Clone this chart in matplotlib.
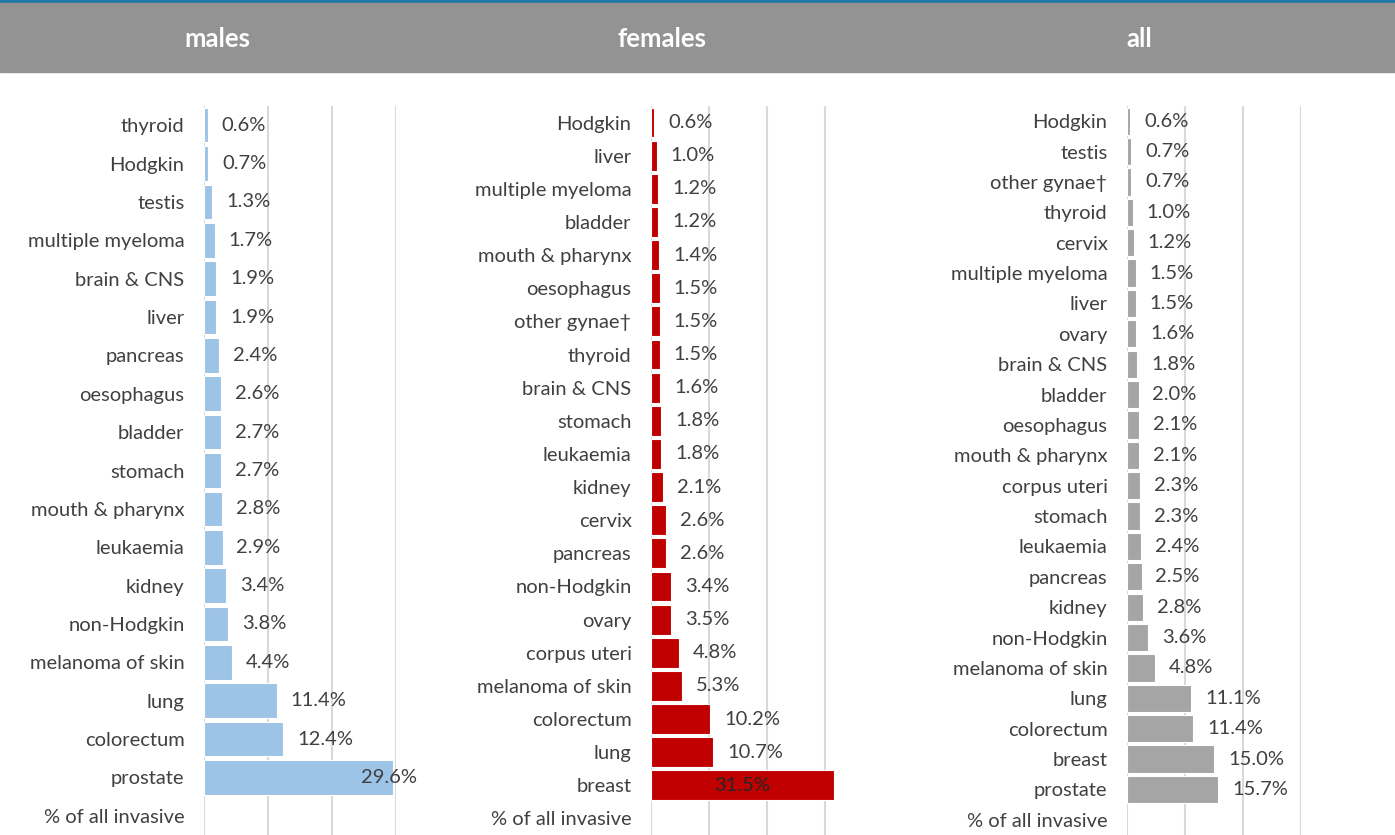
import numpy as np
import matplotlib.pyplot as plt
from matplotlib.patches import Rectangle

plt.rcParams['font.family'] = ['Lato', 'DejaVu Sans']

# share of all invasive cancers (%), listed top to bottom
male_sites = ['thyroid', 'Hodgkin', 'testis', 'multiple myeloma', 'brain & CNS', 'liver',
              'pancreas', 'oesophagus', 'bladder', 'stomach', 'mouth & pharynx', 'leukaemia',
              'kidney', 'non-Hodgkin', 'melanoma of skin', 'lung', 'colorectum', 'prostate']
male_pct = [0.6, 0.7, 1.3, 1.7, 1.9, 1.9, 2.4, 2.6, 2.7, 2.7, 2.8, 2.9, 3.4, 3.8, 4.4,
            11.4, 12.4, 29.6]

female_sites = ['Hodgkin', 'liver', 'multiple myeloma', 'bladder', 'mouth & pharynx',
                'oesophagus', 'other gynae\u2020', 'thyroid', 'brain & CNS', 'stomach',
                'leukaemia', 'kidney', 'cervix', 'pancreas', 'non-Hodgkin', 'ovary',
                'corpus uteri', 'melanoma of skin', 'colorectum', 'lung', 'breast']
female_pct = [0.6, 1.0, 1.2, 1.2, 1.4, 1.5, 1.5, 1.5, 1.6, 1.8, 1.8, 2.1, 2.6, 2.6, 3.4,
              3.5, 4.8, 5.3, 10.2, 10.7, 31.5]

all_sites = ['Hodgkin', 'testis', 'other gynae\u2020', 'thyroid', 'cervix',
             'multiple myeloma', 'liver', 'ovary', 'brain & CNS', 'bladder', 'oesophagus',
             'mouth & pharynx', 'corpus uteri', 'stomach', 'leukaemia', 'pancreas', 'kidney',
             'non-Hodgkin', 'melanoma of skin', 'lung', 'colorectum', 'breast', 'prostate']
all_pct = [0.6, 0.7, 0.7, 1.0, 1.2, 1.5, 1.5, 1.6, 1.8, 2.0, 2.1, 2.1, 2.3, 2.3, 2.4, 2.5,
           2.8, 3.6, 4.8, 11.1, 11.4, 15.0, 15.7]

panel_titles = ['males', 'females', 'all']
bottom_label = '% of all invasive'

W, H = 1395, 835
fig = plt.figure(figsize=(W / 100, H / 100), dpi=100)

# header band
fig.patches.append(Rectangle((0, 1 - 3 / H), 1, 3 / H, transform=fig.transFigure,
                             color='#1f77a8', zorder=0))
fig.patches.append(Rectangle((0, 1 - 72 / H), 1, 69 / H, transform=fig.transFigure,
                             color='#939393', zorder=0))

text_col = '#404040'
fs = 14.5
panels = [
    # sites, values, colour, left px, width px, xmax, title x px, label mode for largest
    (male_sites, male_pct, '#9dc3e6', 204, 192, 30, 217, 'end'),
    (female_sites, female_pct, '#c00000', 651, 186, 32, 662, 'center'),
    (all_sites, all_pct, '#a5a5a5', 1127, 174, 30, 1139, None),
]

top_px, bot_px = 106, 835
for (sites, vals, col, lpx, wpx, xmax, tx, big_mode), title in zip(panels, panel_titles):
    ax = fig.add_axes([lpx / W, (H - bot_px) / H, wpx / W, (bot_px - top_px) / H])
    n = len(sites)
    y = np.arange(n)
    ax.barh(y, vals, height=0.9, color=col, edgecolor='white', linewidth=0.8, zorder=2)
    ax.set_xlim(0, xmax)
    ax.set_ylim(n + 0.5, -0.5)
    ax.set_yticks(list(y) + [n])
    ax.set_yticklabels(sites + [bottom_label], fontsize=fs, color=text_col)
    ax.tick_params(axis='y', length=0, pad=14)
    ax.set_xticks([0, 10, 20, 30])
    ax.tick_params(axis='x', length=0, labelbottom=False)
    ax.grid(axis='x', color='#d9d9d9', linewidth=1.5, zorder=0)
    ax.set_axisbelow(True)
    for s in ax.spines.values():
        s.set_visible(False)

    for i, v in enumerate(vals):
        lab = f'{v:.1f}%'
        if i == n - 1 and big_mode == 'end':
            ax.annotate(lab, (v, i), xytext=(-3, 0), textcoords='offset points',
                        ha='center', va='center', fontsize=fs, color=text_col,
                        annotation_clip=False)
        elif i == n - 1 and big_mode == 'center':
            ax.text(v / 2, i, lab, ha='center', va='center', fontsize=fs, color='#262626')
        else:
            ax.annotate(lab, (v, i), xytext=(10, 0), textcoords='offset points',
                        ha='left', va='center', fontsize=fs, color=text_col,
                        annotation_clip=False)

    fig.text(tx / W, 1 - 39 / H, title, ha='center', va='center', fontsize=18.5,
             fontweight='bold', color='white')

fig.savefig('out.png', dpi=100)
